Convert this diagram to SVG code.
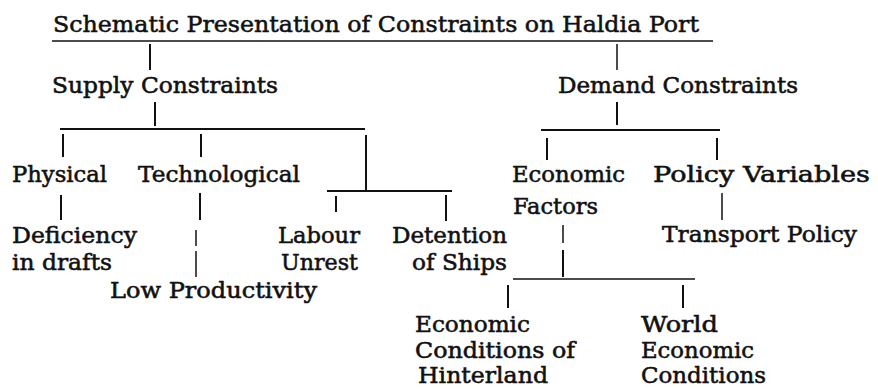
<svg xmlns="http://www.w3.org/2000/svg" width="878" height="389" viewBox="0 0 878 389">
<style>
text{font-family:"DejaVu Serif","Liberation Serif",serif;font-size:22px;fill:#111;stroke:#111;stroke-width:0.55px}
.t{font-size:23px}
.c line{stroke:#111;stroke-width:2;stroke-linecap:butt}
.c .thin{stroke-width:1.5}
</style>
<rect width="878" height="389" fill="#fff"/>
<g class="c" id="connectors">
<line class="thin" x1="52" y1="41" x2="713" y2="41"/>
<line x1="150" y1="44" x2="150" y2="70"/>
<line class="thin" x1="617" y1="44" x2="617" y2="70"/>
<line x1="155" y1="102" x2="155" y2="126"/>
<line x1="60" y1="129" x2="365" y2="129"/>
<line x1="63" y1="134" x2="63" y2="157"/>
<line x1="201" y1="134" x2="201" y2="157"/>
<line x1="366" y1="135" x2="366" y2="191"/>
<line x1="61" y1="195" x2="61" y2="220"/>
<line x1="200" y1="193" x2="200" y2="220"/>
<line class="thin" x1="196" y1="230" x2="196" y2="246"/>
<line class="thin" x1="196" y1="251" x2="196" y2="277"/>
<line x1="327" y1="191" x2="452" y2="191"/>
<line x1="336" y1="196" x2="336" y2="212"/>
<line x1="446" y1="195" x2="446" y2="221"/>
<line x1="617" y1="102" x2="617" y2="125"/>
<line x1="541" y1="130" x2="720" y2="130"/>
<line x1="547" y1="138" x2="547" y2="160"/>
<line x1="717" y1="138" x2="717" y2="160"/>
<line class="thin" x1="722" y1="193" x2="722" y2="220"/>
<line class="thin" x1="563" y1="225" x2="563" y2="243"/>
<line x1="563" y1="250" x2="563" y2="277"/>
<line class="thin" x1="513" y1="279" x2="695" y2="279"/>
<line x1="508" y1="285" x2="508" y2="308"/>
<line x1="683" y1="285" x2="683" y2="308"/>
</g>
<g id="title"><text class="t" x="53" y="32" textLength="646" lengthAdjust="spacingAndGlyphs">Schematic Presentation of Constraints on Haldia Port</text></g>
<g id="supply"><text x="52" y="93" textLength="226" lengthAdjust="spacingAndGlyphs">Supply Constraints</text></g>
<g id="demand"><text x="558" y="93" textLength="240" lengthAdjust="spacingAndGlyphs">Demand Constraints</text></g>
<g id="physical"><text x="12" y="182" textLength="95" lengthAdjust="spacingAndGlyphs">Physical</text></g>
<g id="technological"><text x="138" y="182" textLength="162" lengthAdjust="spacingAndGlyphs">Technological</text></g>
<g id="economic-factors"><text x="512" y="182" textLength="113" lengthAdjust="spacingAndGlyphs">Economic</text><text x="513" y="214" textLength="85" lengthAdjust="spacingAndGlyphs">Factors</text></g>
<g id="policy-variables"><text x="653" y="182" textLength="217" lengthAdjust="spacingAndGlyphs">Policy Variables</text></g>
<g id="deficiency"><text x="12" y="243" textLength="125" lengthAdjust="spacingAndGlyphs">Deficiency</text><text x="12" y="270" textLength="100" lengthAdjust="spacingAndGlyphs">in drafts</text></g>
<g id="low-productivity"><text x="110" y="298" textLength="207" lengthAdjust="spacingAndGlyphs">Low Productivity</text></g>
<g id="labour-unrest"><text x="278" y="243" textLength="82" lengthAdjust="spacingAndGlyphs">Labour</text><text x="281" y="270" textLength="77" lengthAdjust="spacingAndGlyphs">Unrest</text></g>
<g id="detention"><text x="392" y="243" textLength="115" lengthAdjust="spacingAndGlyphs">Detention</text><text x="412" y="270" textLength="95" lengthAdjust="spacingAndGlyphs">of Ships</text></g>
<g id="transport-policy"><text x="662" y="242" textLength="195" lengthAdjust="spacingAndGlyphs">Transport Policy</text></g>
<g id="hinterland"><text x="415" y="332" textLength="115" lengthAdjust="spacingAndGlyphs">Economic</text><text x="415" y="358" textLength="160" lengthAdjust="spacingAndGlyphs">Conditions of</text><text x="418" y="383" textLength="130" lengthAdjust="spacingAndGlyphs">Hinterland</text></g>
<g id="world"><text x="641" y="332" textLength="77" lengthAdjust="spacingAndGlyphs">World</text><text x="641" y="358" textLength="113" lengthAdjust="spacingAndGlyphs">Economic</text><text x="641" y="383" textLength="125" lengthAdjust="spacingAndGlyphs">Conditions</text></g>
</svg>
